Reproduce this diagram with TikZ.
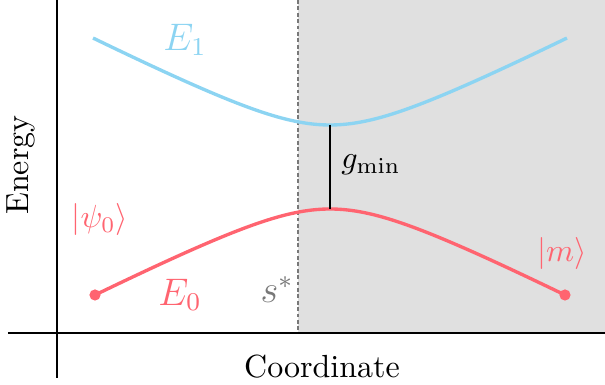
\documentclass[tikz,border=0pt]{standalone}
\begin{document}
\begin{tikzpicture}[x=0.3125pt,y=-0.3125pt,
  axisline/.style={draw=black,line width=0.5pt},
  bluecurve/.style={draw=cE1,line width=1.05pt},
  redcurve/.style={draw=cE0,line width=1.05pt},
  enddot/.style={circle,fill=cE0,inner sep=0pt,minimum size=3.5pt},
  gapline/.style={draw=black,line width=0.45pt},
  divline/.style={draw=cdiv,line width=0.4pt,dash pattern=on 1.2pt off 0.8pt}]
\definecolor{cE1}{RGB}{140,212,242}
\definecolor{cE0}{RGB}{255,100,112}
\definecolor{cshade}{RGB}{224,224,224}
\definecolor{cdiv}{RGB}{120,120,120}
\definecolor{cstar}{RGB}{120,120,120}
\useasboundingbox (0,0) rectangle (605,385);
% shaded region
\fill[cshade] (298,0) rectangle (605,333);
\coordinate (dtop) at (298,0);
\coordinate (dbot) at (298,333);
\draw[divline] (dtop) -- (dbot);
% axes
\coordinate (ytop) at (57,0);
\coordinate (ybot) at (57,378);
\coordinate (xleft) at (8,333);
\coordinate (xright) at (605,333);
\draw[axisline] (ytop) -- (ybot);
\draw[axisline] (xleft) -- (xright);
% curves
\draw[bluecurve] plot[domain=-237:237,samples=80,smooth] (330+\x,{125-40*(sqrt(1+(0.012715*\x)^2)-1)});
\draw[redcurve] plot[domain=-235:235,samples=80,smooth] (330+\x,{209+40*(sqrt(1+(0.012715*\x)^2)-1)});
\node[enddot] (psidot) at (95,295) {};
\node[enddot] (mdot) at (565,295) {};
% gap
\coordinate (gtop) at (330,125);
\coordinate (gbot) at (330,209);
\draw[gapline] (gtop) -- (gbot);
% labels
\node[text=cE1,font=\large] (E1) at (185,40) {$E_1$};
\node[text=cE0,font=\large] (E0) at (180,295) {$E_0$};
\node[text=cE0] (psi) at (100,220) {$|\psi_0\rangle$};
\node[text=cE0] (mlab) at (562,254) {$|m\rangle$};
\node[text=cstar,font=\large] (sstar) at (277,290) {$s^*$};
\node (gmin) at (371,165) {$g_{\min}$};
\node[rotate=90] (ylab) at (21,165) {Energy};
\node (xlab) at (322,367) {Coordinate};
\end{tikzpicture}
\end{document}
